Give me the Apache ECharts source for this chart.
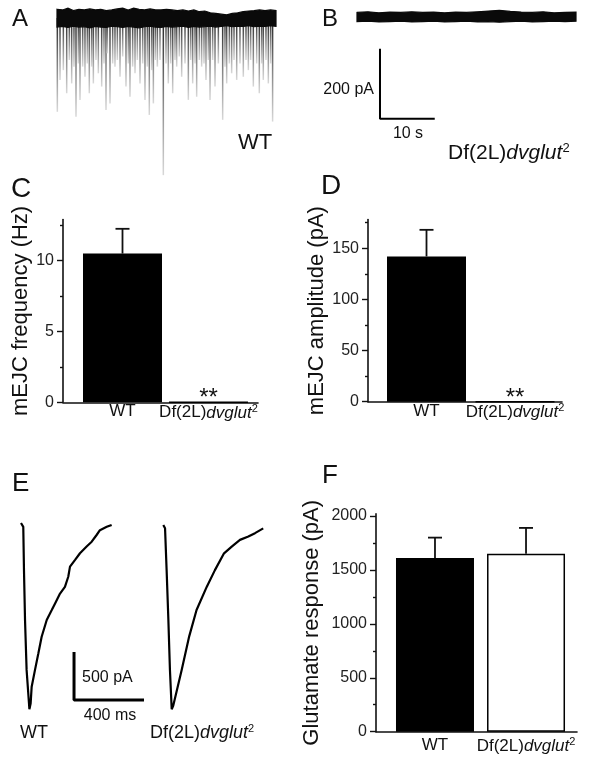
<!DOCTYPE html>
<html><head><meta charset="utf-8">
<script src="https://cdn.jsdelivr.net/npm/echarts@6/dist/echarts.min.js"></script>
<style>html,body{margin:0;padding:0;background:#fff}#c{width:600px;height:763px}</style>
</head><body><div id="c"></div><script>
const FONT = '"Liberation Sans", Arial, Helvetica, sans-serif';

// ---------- Panel A (WT, spontaneous trace) : time in s, current in pA ----------
const bandTimesA = [0,1,2,3,4,5,6,7,8,9,10,11,12,13,14,15,16,17,18,19,20,21,22,23,24,25,26,27,28,29,30,31,32,33,34,35,36,37,38,39,40];
const bandTopA = [25,23,28,21,25,23,26,23,25,21,23,26,28,23,28,25,23,26,23,23,25,23,21,23,20,23,18,20,15,13,11,9,13,15,18,20,21,23,21,23,21];
const bandBottomA = [-26,-24,-27,-23,-26,-25,-28,-24,-26,-27,-23,-25,-27,-24,-26,-28,-25,-23,-26,-27,-24,-26,-25,-23,-27,-24,-26,-25,-23,-26,-24,-22,-25,-23,-24,-22,-25,-23,-24,-22,-24];
const spikeTimesA = [0.06,0.55,1.16,1.77,2.25,2.68,3.1,3.47,3.9,4.2,4.69,5.11,5.54,5.9,6.33,6.64,7.12,7.55,8.16,8.58,8.95,9.19,9.68,10.17,10.59,11.02,11.51,12.0,12.6,13.03,13.33,13.82,14.25,14.67,15.16,15.65,16.07,16.5,16.86,17.29,17.6,17.96,18.33,18.81,19.42,19.91,20.33,20.76,21.13,21.55,21.86,22.34,22.77,23.38,23.99,24.42,24.78,25.21,25.51,26.0,26.42,26.85,27.21,27.64,27.95,28.43,28.86,29.47,30.26,30.68,30.99,31.48,31.9,32.33,32.82,33.42,34.03,34.52,34.95,35.37,35.86,36.47,36.95,37.38,37.68,38.17,38.6,39.02,39.38];
const spikeDepthsA = [-268,-177,-149,-215,-120,-187,-139,-282,-130,-234,-139,-168,-130,-215,-139,-187,-120,-158,-196,-130,-263,-101,-244,-130,-139,-120,-168,-110,-196,-130,-225,-139,-158,-120,-187,-130,-234,-139,-277,-149,-244,-120,-139,-120,-449,-130,-187,-130,-215,-120,-139,-110,-168,-130,-234,-120,-187,-130,-225,-120,-139,-130,-177,-120,-234,-120,-196,-130,-291,-139,-187,-130,-158,-120,-177,-130,-168,-120,-149,-120,-196,-130,-215,-130,-177,-120,-187,-130,-296];

// ---------- Panel B (Df(2L)dvglut2, spontaneous trace) ----------
const bandTimesB = [0,2,4,6,8,10,12,14,16,18,20,22,24,26,28,30,32,34,36,38,40];
const bandTopB = [13,15,12,14,13,15,13,14,12,14,13,15,17,19,16,14,13,15,12,13,14];
const bandBottomB = [-13,-12,-14,-13,-12,-14,-13,-12,-14,-13,-12,-14,-13,-15,-13,-12,-14,-13,-12,-13,-12];
const scaleB_pA = 200, scaleB_s = 10;

// ---------- Bar panels ----------
const categories = ['WT', 'Df(2L)dvglut2'];
const freqMean = [10.5, 0];
const freqErr = [1.75, 0];
const ampMean = [142, 0];
const ampErr = [26, 0];
const gluMean = [1610, 1650];
const gluErr = [190, 240];
const sigMarks = ['', '**'];

// ---------- Panel E (glutamate-evoked currents): time in ms, current in pA ----------
const eTimeWT = [0,13,17,23,32,48,55,61,80,99,118,147,175,194,223,251,270,280,309,337,375,404,432,451,490,518];
const eCurWT  = [0,-40,-490,-1010,-1530,-1940,-1880,-1705,-1530,-1360,-1185,-1010,-910,-840,-735,-665,-560,-455,-385,-315,-245,-195,-125,-75,-40,-20];
const eTimeDf = [0,10,19,29,38,48,57,105,148,190,248,295,347,391,438,486,524,571];
const eCurDf  = [0,-35,-470,-990,-1510,-1920,-1880,-1510,-1160,-885,-645,-470,-295,-225,-155,-120,-85,-35];
const scaleE_pA = 500, scaleE_ms = 400;

// ---------- layout helpers ----------
const AX = '#111';
const dfRich = (fs) => ({
  n: {fontSize: fs, fontFamily: FONT, color: '#111'},
  i: {fontSize: fs, fontFamily: FONT, fontStyle: 'italic', color: '#111'},
  s: {fontSize: Math.round(fs * 0.62), fontFamily: FONT, color: '#111', verticalAlign: 'top', padding: [0, 0, Math.round(fs*0.45), 0]}
});
const dfText = '{n|Df(2L)}{i|dvglut}{s|2}';
const catLabel = (v) => v === 1 ? '{n|' + categories[0] + '}' : (v === 2 ? dfText : '');

const grids = [
  {left: 57, top: 4, width: 219, height: 175},        // 0 A
  {left: 357, top: 3, width: 219, height: 119},       // 1 B
  {left: 63, top: 219.6, width: 195, height: 182.7},  // 2 C
  {left: 368, top: 219.6, width: 194, height: 182.1}, // 3 D
  {left: 21, top: 513.4, width: 126, height: 211.2},  // 4 E WT
  {left: 163.3, top: 515.4, width: 126, height: 211.2}, // 5 E Df
  {left: 376, top: 513.9, width: 201, height: 217.8}  // 6 F
];

const hiddenX = (g, min, max) => ({type: 'value', gridIndex: g, min, max, show: false});
const hiddenY = (g, min, max) => ({type: 'value', gridIndex: g, min, max, show: false});

function barX(g, min, max, margin) {
  return {type: 'value', gridIndex: g, min, max, position: 'bottom',
    axisLine: {show: true, onZero: false, lineStyle: {color: AX, width: 1.6}},
    axisTick: {show: false}, splitLine: {show: false},
    axisLabel: {customValues: [1, 2], formatter: catLabel, margin, rich: dfRich(17), color: '#111', fontSize: 17, fontFamily: FONT}
  };
}
function barY(g, max, major, minor, name, gap) {
  return [
    {type: 'value', gridIndex: g, min: 0, max, position: 'left', offset: 0, name, nameLocation: 'middle', nameGap: gap,
     nameTextStyle: {fontSize: 22, fontFamily: FONT, color: '#111'},
     axisLine: {show: true, onZero: false, lineStyle: {color: AX, width: 1.6}},
     axisTick: {show: true, customValues: major, length: 6, lineStyle: {color: AX, width: 1.4}},
     axisLabel: {customValues: major, formatter: (v) => String(v), fontSize: 16, fontFamily: FONT, color: '#222', margin: 9},
     splitLine: {show: false}},
    {type: 'value', gridIndex: g, min: 0, max, position: 'left', offset: 0,
     axisLine: {show: false, onZero: false}, axisLabel: {show: false}, splitLine: {show: false},
     axisTick: {show: true, customValues: minor, length: 3, lineStyle: {color: AX, width: 1.4}}}
  ];
}

const xAxes = [
  hiddenX(0, 0, 40), hiddenX(1, 0, 40),
  barX(2, 0.308, 2.576, 1), barX(3, 0.339, 2.531, 1),
  hiddenX(4, 0, 720), hiddenX(5, 0, 720),
  barX(6, 0.352, 2.560, 5)
];
const yAxes = [
  hiddenY(0, -460, 40), hiddenY(1, -300, 40),
  ...barY(2, 12.9, [0,5,10], [2.5,7.5,12.5], 'mEJC frequency (Hz)', 27),
  ...barY(3, 178, [0,50,100,150], [25,75,125,175], 'mEJC amplitude (pA)', 35),
  hiddenY(4, -2100, 100), hiddenY(5, -2100, 100),
  ...barY(6, 2020, [0,500,1000,1500,2000], [250,750,1250,1750], 'Glutamate response (pA)', 53)
];
// yAxis indices: 0 A, 1 B, 2/3 C, 4/5 D, 6 E1, 7 E2, 8/9 F

function bandSeries(xi, yi, times, top, bottom) {
  return {type: 'custom', xAxisIndex: xi, yAxisIndex: yi, z: 5, silent: true,
    data: times.map((t, i) => [t, top[i], bottom[i]]),
    renderItem: (params, api) => {
      if (params.dataIndex !== 0) return null;
      const up = times.map((t, i) => api.coord([t, top[i]]));
      const dn = times.map((t, i) => api.coord([t, bottom[i]])).reverse();
      return {type: 'polygon', shape: {points: up.concat(dn)}, style: {fill: '#0a0a0a', stroke: '#0a0a0a', lineWidth: 1.2}};
    }};
}

const spikeSeries = {type: 'custom', xAxisIndex: 0, yAxisIndex: 0, z: 3, silent: true,
  data: spikeTimesA.map((t, i) => [t, spikeDepthsA[i]]),
  renderItem: (params, api) => {
    const p0 = api.coord([api.value(0), 0]);
    const p1 = api.coord([api.value(0), api.value(1)]);
    return {type: 'line', shape: {x1: p0[0], y1: p0[1], x2: p1[0], y2: p1[1]},
      style: {lineWidth: 1.5, stroke: {type: 'linear', global: true, x: 0, y: p0[1], x2: 0, y2: p1[1],
        colorStops: [{offset: 0, color: '#222'}, {offset: 0.45, color: '#7a7a7a'}, {offset: 1, color: '#d8d8d8'}]}}};
  }};

function barSeries(xi, yi, means, fills, marks) {
  return {type: 'bar', xAxisIndex: xi, yAxisIndex: yi, barWidth: 79, z: 4,
    data: means.map((m, i) => ({value: [i + 1, m],
      itemStyle: {color: fills[i], borderColor: '#000', borderWidth: 1.5},
      label: {show: !!marks[i], formatter: marks[i], position: 'top', distance: 0, offset: [0, 9],
        fontSize: 24, fontFamily: FONT, color: '#111'}}))
  };
}
function errSeries(xi, yi, means, errs) {
  return {type: 'custom', xAxisIndex: xi, yAxisIndex: yi, z: 6, silent: true,
    data: means.map((m, i) => [i + 1, m, errs[i]]),
    renderItem: (params, api) => {
      const e = api.value(2);
      if (!e) return null;
      const p0 = api.coord([api.value(0), api.value(1)]);
      const p1 = api.coord([api.value(0), api.value(1) + e]);
      const st = {stroke: '#111', lineWidth: 1.8};
      return {type: 'group', children: [
        {type: 'line', shape: {x1: p0[0], y1: p0[1], x2: p1[0], y2: p1[1]}, style: st},
        {type: 'line', shape: {x1: p1[0] - 7, y1: p1[1], x2: p1[0] + 7, y2: p1[1]}, style: st}
      ]};
    }};
}
function scaleBar(xi, yi, x0, y0, dy, dx, w) {
  return {type: 'line', xAxisIndex: xi, yAxisIndex: yi, clip: false, silent: true, showSymbol: false, symbol: 'none',
    lineStyle: {color: '#000', width: w}, data: [[x0, y0 + dy], [x0, y0], [x0 + dx, y0]]};
}
function trace(xi, yi, ts, vs) {
  return {type: 'line', xAxisIndex: xi, yAxisIndex: yi, showSymbol: false, symbol: 'none', silent: true,
    lineStyle: {color: '#000', width: 2.2}, data: ts.map((t, i) => [t, vs[i]])};
}

const series = [
  spikeSeries,
  bandSeries(0, 0, bandTimesA, bandTopA, bandBottomA),
  bandSeries(1, 1, bandTimesB, bandTopB, bandBottomB),
  scaleBar(1, 1, 4.2, -291, scaleB_pA, scaleB_s, 2),
  barSeries(2, 2, freqMean, ['#000', '#fff'], sigMarks),
  errSeries(2, 2, freqMean, freqErr),
  barSeries(3, 4, ampMean, ['#000', '#fff'], sigMarks),
  errSeries(3, 4, ampMean, ampErr),
  trace(4, 6, eTimeWT, eCurWT),
  trace(5, 7, eTimeDf, eCurDf),
  scaleBar(4, 6, 303, -1844, scaleE_pA, scaleE_ms, 3),
  Object.assign(barSeries(6, 8, gluMean, ['#000', '#fff'], ['', '']), {barWidth: 78}),
  errSeries(6, 8, gluMean, gluErr)
];

const txt = (text, x, y, fs, align, extra) => ({type: 'text', x, y, silent: true,
  style: Object.assign({text, fontSize: fs, fontFamily: FONT, fill: '#111', align: align || 'left', verticalAlign: 'middle'}, extra || {})});

const graphic = [
  txt('A', 12, 19, 24), txt('B', 322, 19, 24),
  txt('C', 11, 189, 28), txt('D', 321, 186, 28),
  txt('E', 12, 484, 26), txt('F', 322, 476, 26),
  txt('WT', 238, 143, 22),
  txt(dfText, 448, 153, 21, 'left', {rich: dfRich(21)}),
  txt('200 pA', 374, 90, 16, 'right'),
  txt('10 s', 408, 134, 16, 'center'),
  txt('500 pA', 82, 678, 16),
  txt('400 ms', 110, 716, 16, 'center'),
  txt('WT', 20, 733, 18),
  txt(dfText, 150, 733, 18, 'left', {rich: dfRich(18)})
];

const chart = echarts.init(document.getElementById('c'));
chart.setOption({
  animation: false,
  backgroundColor: '#fff',
  textStyle: {fontFamily: FONT},
  grid: grids,
  xAxis: xAxes,
  yAxis: yAxes,
  series,
  graphic
});
</script></body></html>
